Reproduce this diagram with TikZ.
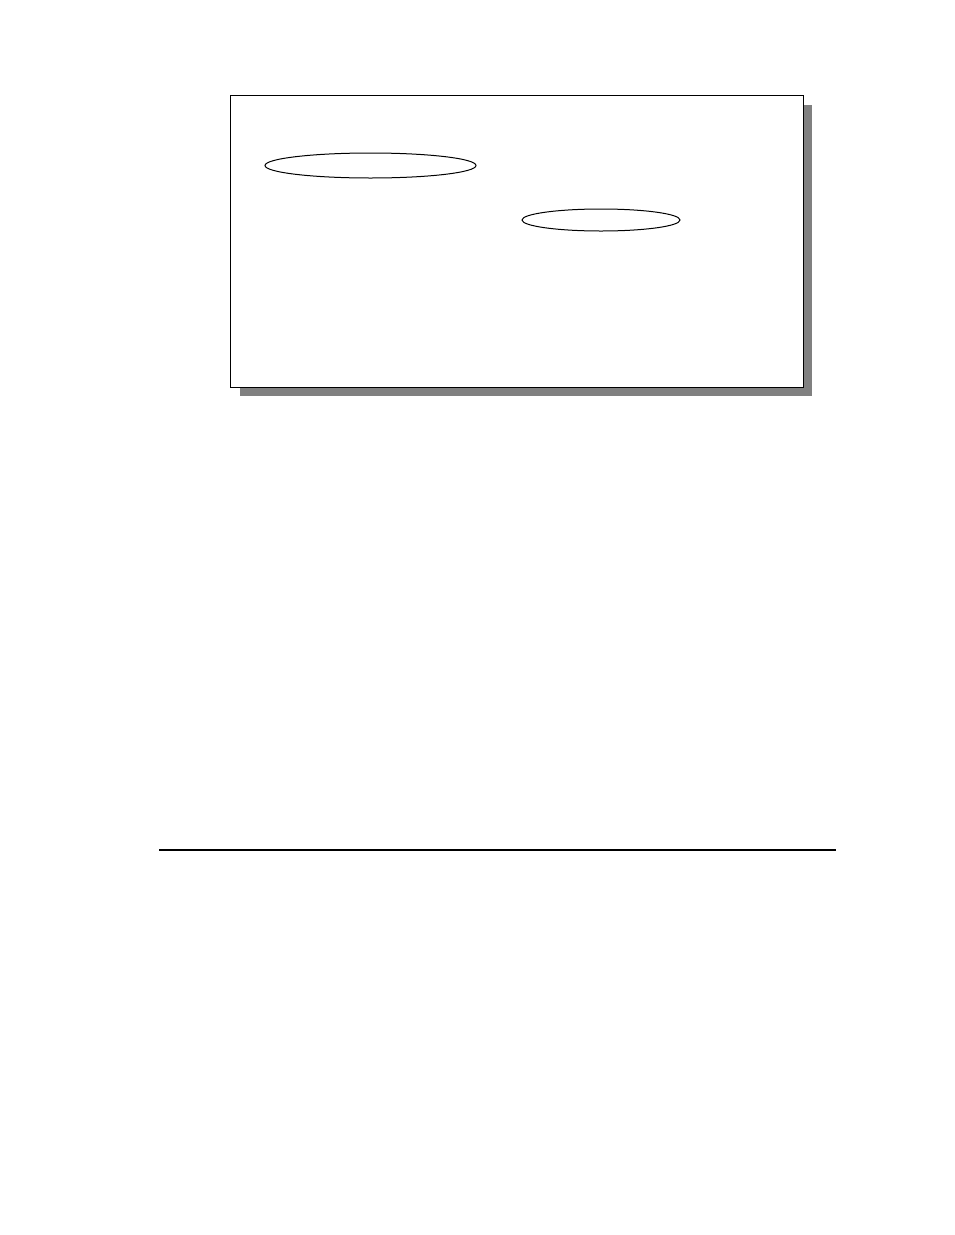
\documentclass[tikz,border=0pt]{standalone}
\begin{document}
\begin{tikzpicture}[x=1pt,y=-1pt,
  frame/.style={draw=black,fill=white,line width=1pt},
  shadowbox/.style={fill=black!50,draw=none},
  oval/.style={draw=black,line width=1pt},
  rule/.style={draw=black,line width=1.2pt}]
\useasboundingbox (0,0) rectangle (954,1235);
\fill[white] (0,0) rectangle (954,1235);
\path[shadowbox] (240,105) rectangle (812,396);
\path[frame] (230,95) rectangle (803,387);
\draw[oval] (370.5,165.5) ellipse [x radius=105.5, y radius=12.5];
\draw[oval] (601,220) ellipse [x radius=79, y radius=11];
\coordinate (l1) at (159,850);
\coordinate (l2) at (836,850);
\draw[rule] (l1) -- (l2);
\end{tikzpicture}
\end{document}
